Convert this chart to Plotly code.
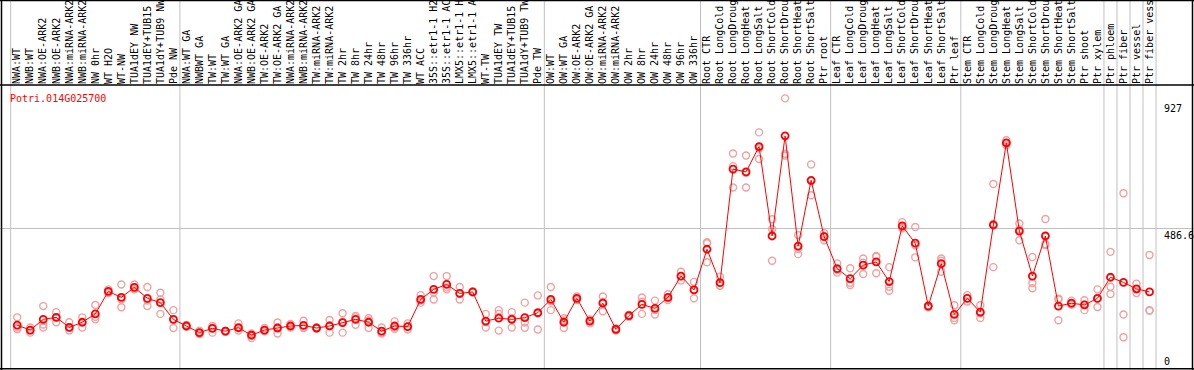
import plotly.graph_objects as go

gene = "Potri.014G025700"

groups = [
    ["NWA:WT", "NWB:WT", "NWA:OE-ARK2", "NWB:OE-ARK2", "NWA:miRNA-ARK2", "NWB:miRNA-ARK2",
     "NW 0hr", "WT H2O", "WT-NW", "TUA1dEY NW", "TUA1dEY+TUB15 NW", "TUA1dY+TUB9 NW", "Pde NW"],
    ["NWA:WT GA", "NWBWT GA", "TW:WT", "TW:WT GA", "NWA:OE-ARK2 GA", "NWB:OE-ARK2 GA",
     "TW:OE-ARK2", "TW:OE-ARK2 GA", "NWA:miRNA-ARK2 GA", "NWB:miRNA-ARK2 GA", "TW:miRNA-ARK2",
     "TW:miRNA-ARK2 GA", "TW 2hr", "TW 8hr", "TW 24hr", "TW 48hr", "TW 96hr", "TW 336hr",
     "WT ACC", "35S::etr1-1 H2O", "35S::etr1-1 ACC", "LMX5::etr1-1 H2O", "LMX5::etr1-1 ACC",
     "WT-TW", "TUA1dEY TW", "TUA1dEY+TUB15 TW", "TUA1dY+TUB9 TW", "Pde TW"],
    ["OW:WT", "OW:WT GA", "OW:OE-ARK2", "OW:OE-ARK2 GA", "OW:miRNA-ARK2", "OW:miRNA-ARK2 GA",
     "OW 2hr", "OW 8hr", "OW 24hr", "OW 48hr", "OW 96hr", "OW 336hr"],
    ["Root CTR", "Root LongCold", "Root LongDrought", "Root LongHeat", "Root LongSalt",
     "Root ShortCold", "Root ShortDrought", "Root ShortHeat", "Root ShortSalt", "Ptr root"],
    ["Leaf CTR", "Leaf LongCold", "Leaf LongDrought", "Leaf LongHeat", "Leaf LongSalt",
     "Leaf ShortCold", "Leaf ShortDrought", "Leaf ShortHeat", "Leaf ShortSalt", "Ptr leaf"],
    ["Stem CTR", "Stem LongCold", "Stem LongDrought", "Stem LongHeat", "Stem LongSalt",
     "Stem ShortCold", "Stem ShortDrought", "Stem ShortHeat", "Stem ShortSalt", "Ptr shoot",
     "Ptr xylem"],
    ["Ptr phloem"], ["Ptr fiber"], ["Ptr vessel"], ["Ptr fiber vessel"],
]

means = [151, 134, 171, 178, 143, 161, 190, 268, 247, 282, 244, 229, 171,
         148, 125, 140, 130, 142, 116, 134, 141, 148, 150, 141, 148, 160, 171, 161, 130, 148, 146,
         240, 275, 292, 261, 266, 165, 175, 171, 177, 194,
         240, 161, 244, 165, 227, 136, 184, 223, 209, 247, 321, 273,
         414, 298, 692, 682, 770, 460, 807, 425, 653, 458,
         347, 312, 359, 370, 302, 495, 435, 217, 364, 188,
         244, 196, 498, 783, 477, 321, 460, 217, 227, 221, 244,
         317, 299, 277, 266]

rep1 = [178, 143, 217, 196, 161, 178, 221, 275, 292, 292, 283, 263, 203,
        152, 132, 148, 130, 157, 122, 141, 160, 155, 166, 143, 169, 192, 183, 175, 143, 164, 157,
        255, 321, 321, 283, 268, 190, 203, 196, 229, 254,
        283, 175, 250, 171, 250, 136, 186, 247, 236, 258, 336, 301,
        435, 319, 746, 739, 819, 518, 937, 463, 708, 470,
        365, 348, 382, 391, 352, 508, 491, 220, 382, 220,
        255, 220, 640, 792, 503, 387, 519, 240, 236, 237, 275,
        405, 608, 295, 394]
rep2 = [143, 125, 143, 161, 132, 143, 171, 268, 213, 282, 217, 240, 141,
        145, 120, 125, 132, 132, 106, 132, 122, 143, 143, 141, 125, 125, 152, 141, 125, 143, 136,
        229, 240, 275, 240, 265, 143, 132, 143, 160, 136,
        203, 141, 244, 157, 199, 132, 180, 190, 203, 238, 321, 244,
        369, 287, 628, 628, 727, 374, 739, 397, 601, 445,
        333, 290, 328, 331, 270, 490, 386, 213, 336, 168,
        244, 176, 352, 775, 445, 279, 429, 168, 222, 203, 214,
        284, 188, 275, 203]
rep3 = [137, 132, 153, 178, 143, 161, 180, 262, 240, 275, 236, 190, 171,
        148, 125, 141, 128, 141, 120, 130, 143, 148, 141, 139, 150, 163, 178, 167, 122, 138, 146,
        236, 265, 282, 260, 265, 162, 190, 175, 142, 192,
        234, 167, 238, 167, 232, 140, 186, 232, 188, 245, 306, 274,
        438, 288, 702, 679, 764, 484, 745, 415, 650, 460,
        343, 298, 367, 388, 284, 487, 428, 218, 374, 176,
        233, 192, 502, 782, 483, 297, 432, 243, 223, 223, 243,
        259, 109, 262, 201]

y_ticks = [0, 486.6, 927]
y_tick_text = ["0", "486.6", "927"]

labels = [lab for g in groups for lab in g]
idx = list(range(len(labels)))

W, H = 1194, 370
px_per_cat = 13.015
x_left = -0.5 - 10.7 / px_per_cat
x_right = x_left + W / px_per_cat
top_px = 85
ppu = 0.28853
y0_px = 368.7
y_lo = (y0_px - H) / ppu
y_hi = (y0_px - top_px) / ppu

fig = go.Figure()
rep_x = idx * 3
rep_y = rep1 + rep2 + rep3
fig.add_trace(go.Scatter(x=rep_x, y=rep_y, mode="markers",
                         marker=dict(symbol="circle-open", size=7, color="#f0a0a0",
                                     line=dict(width=1.4, color="#f0a0a0")),
                         hoverinfo="skip", showlegend=False))
fig.add_trace(go.Scatter(x=idx, y=means, mode="lines+markers",
                         line=dict(color="#ff0000", width=1),
                         marker=dict(symbol="circle-open", size=7, color="#ff0000",
                                     line=dict(width=1.8, color="#ff0000")),
                         showlegend=False))

shapes = []
b = -0.5
bounds = [b]
for g in groups:
    b += len(g)
    bounds.append(b)
for bx in bounds:
    shapes.append(dict(type="line", xref="x", yref="paper", x0=bx, x1=bx, y0=0, y1=1,
                       line=dict(color="#c0c0c0", width=1), layer="below"))


def px_x(p):
    return p / W


def px_y(p):
    return 1 - p / H


frame = dict(color="black", width=1.5)
shapes.append(dict(type="line", xref="paper", yref="paper", x0=px_x(1.5), x1=px_x(1.5), y0=0, y1=1, line=frame))
shapes.append(dict(type="line", xref="paper", yref="paper", x0=px_x(1192.5), x1=px_x(1192.5), y0=0, y1=1, line=frame))
shapes.append(dict(type="line", xref="paper", yref="paper", x0=0, x1=1, y0=px_y(0.5), y1=px_y(0.5), line=frame))
shapes.append(dict(type="line", xref="paper", yref="paper", x0=0, x1=1, y0=px_y(368.8), y1=px_y(368.8), line=frame))
shapes.append(dict(type="line", xref="paper", yref="paper", x0=0, x1=1, y0=px_y(top_px), y1=px_y(top_px), line=frame))

annotations = [dict(text=gene, xref="paper", yref="paper", x=px_x(8), y=px_y(91),
                    xanchor="left", yanchor="top", showarrow=False,
                    font=dict(family="DejaVu Sans Mono", size=10, color="red"))]
for v, t in zip(y_ticks, y_tick_text):
    annotations.append(dict(text=t, xref="paper", yref="y", x=px_x(1162), y=v,
                            xanchor="left", yanchor="bottom" if v == 0 else "top",
                            showarrow=False,
                            font=dict(family="DejaVu Sans Mono", size=10, color="black")))

fig.update_layout(
    width=W, height=H, margin=dict(l=0, r=0, t=0, b=0),
    paper_bgcolor="white", plot_bgcolor="white",
    xaxis=dict(range=[x_left, x_right], tickmode="array", tickvals=idx, ticktext=labels,
               side="top", tickangle=-90, ticks="", showgrid=False, zeroline=False,
               showline=False, automargin=False,
               tickfont=dict(family="DejaVu Sans Mono", size=10, color="black")),
    yaxis=dict(domain=[0, 1 - top_px / H], range=[y_lo, y_hi], tickmode="array",
               tickvals=[486.6], showticklabels=False, showgrid=True, gridcolor="#c0c0c0",
               gridwidth=1, zeroline=False, showline=False, automargin=False),
    shapes=shapes, annotations=annotations,
)

fig.write_html("out.html", config={"displayModeBar": False},
               post_script="document.body.style.margin='0';document.body.style.overflow='hidden';")
